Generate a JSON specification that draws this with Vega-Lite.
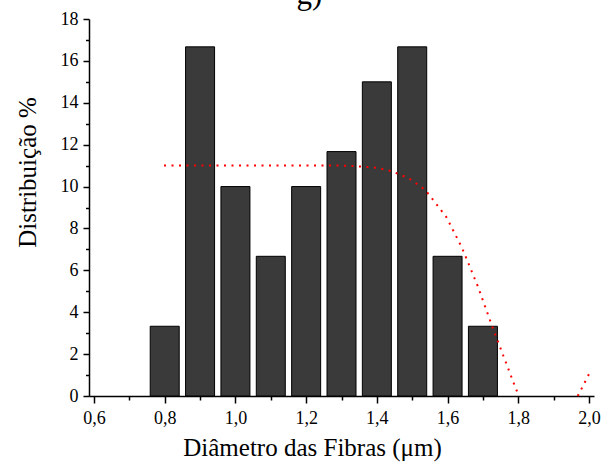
{
  "$schema": "https://vega.github.io/schema/vega-lite/v6.json",
  "width": 505,
  "height": 377,
  "autosize": {"type": "none"},
  "padding": {"left": 89, "top": 19, "right": 15, "bottom": 68},
  "background": "white",
  "config": {
    "view": {"stroke": null},
    "font": "Liberation Serif",
    "axis": {"grid": false, "domainColor": "black", "tickColor": "black", "domainWidth": 1.5, "tickWidth": 1.5, "labelColor": "black", "titleColor": "black", "labelFont": "Liberation Serif", "titleFont": "Liberation Serif", "titleFontWeight": "normal", "labelFontSize": 18, "titleFontSize": 25}
  },
  "title": {"text": "g)", "font": "Liberation Serif", "fontSize": 31, "fontWeight": "normal", "frame": "group", "anchor": "middle", "dx": -32, "dy": 25, "offset": 0, "baseline": "alphabetic", "color": "black"},
  "datasets": {
    "bars": [
      {"d": 0.8, "p": 3.33},
      {"d": 0.9, "p": 16.67},
      {"d": 1.0, "p": 10.0},
      {"d": 1.1, "p": 6.67},
      {"d": 1.2, "p": 10.0},
      {"d": 1.3, "p": 11.67},
      {"d": 1.4, "p": 15.0},
      {"d": 1.5, "p": 16.67},
      {"d": 1.6, "p": 6.67},
      {"d": 1.7, "p": 3.33}
    ],
    "curve": [
      {"seg": "a", "d": 0.798, "p": 11.0},
      {"seg": "a", "d": 0.9, "p": 11.0},
      {"seg": "a", "d": 1.0, "p": 11.0},
      {"seg": "a", "d": 1.1, "p": 11.0},
      {"seg": "a", "d": 1.2, "p": 11.0},
      {"seg": "a", "d": 1.3, "p": 11.0},
      {"seg": "a", "d": 1.335, "p": 10.98},
      {"seg": "a", "d": 1.4, "p": 10.9},
      {"seg": "a", "d": 1.442, "p": 10.73},
      {"seg": "a", "d": 1.49, "p": 10.4},
      {"seg": "a", "d": 1.527, "p": 9.97},
      {"seg": "a", "d": 1.547, "p": 9.63},
      {"seg": "a", "d": 1.597, "p": 8.53},
      {"seg": "a", "d": 1.641, "p": 7.07},
      {"seg": "a", "d": 1.686, "p": 5.22},
      {"seg": "a", "d": 1.725, "p": 3.38},
      {"seg": "a", "d": 1.758, "p": 1.91},
      {"seg": "a", "d": 1.791, "p": 0.44},
      {"seg": "a", "d": 1.802, "p": 0.0},
      {"seg": "b", "d": 1.968, "p": 0.0},
      {"seg": "b", "d": 1.976, "p": 0.25},
      {"seg": "b", "d": 2.0, "p": 1.05}
    ]
  },
  "layer": [
    {
      "data": {"name": "bars"},
      "mark": {"type": "bar", "size": 29, "fill": "#3a3a3a", "stroke": "black", "strokeWidth": 1},
      "encoding": {
        "x": {"field": "d", "type": "quantitative", "scale": {"domain": [0.6, 2.0], "nice": false, "zero": false},
              "axis": {"title": "Diâmetro das Fibras (μm)", "values": [0.6, 0.8, 1.0, 1.2, 1.4, 1.6, 1.8, 2.0], "labelExpr": "replace(format(datum.value, '.1f'), '.', ',')", "labelFont": "Liberation Serif", "tickSize": 7, "labelPadding": 6, "titleX": 223, "titleY": 59, "titleBaseline": "alphabetic", "labelFlush": false}},
        "y": {"field": "p", "type": "quantitative", "scale": {"domain": [0, 18], "nice": false},
              "axis": {"title": "Distribuição %", "values": [0, 2, 4, 6, 8, 10, 12, 14, 16, 18], "labelFont": "Liberation Serif", "tickSize": 6, "labelPadding": 5, "titleX": -54, "titleY": 153, "titleBaseline": "alphabetic", "labelFlush": false}}
      }
    },
    {
      "data": {"name": "bars"},
      "mark": {"type": "bar", "size": 29, "opacity": 0},
      "encoding": {
        "x": {"field": "d", "type": "quantitative", "axis": {"orient": "bottom", "title": null, "labels": false, "domain": false, "values": [0.7, 0.9, 1.1, 1.3, 1.5, 1.7, 1.9], "tickSize": 4}},
        "y": {"field": "p", "type": "quantitative", "axis": {"orient": "left", "title": null, "labels": false, "domain": false, "values": [1, 3, 5, 7, 9, 11, 13, 15, 17], "tickSize": 3.5}}
      }
    },
    {
      "data": {"name": "curve"},
      "mark": {"type": "line", "color": "#ff0000", "strokeWidth": 2, "strokeDash": [2, 5.5]},
      "encoding": {
        "x": {"field": "d", "type": "quantitative", "axis": null},
        "y": {"field": "p", "type": "quantitative", "axis": null},
        "detail": {"field": "seg"}
      }
    }
  ],
  "resolve": {"axis": {"x": "independent", "y": "independent"}}
}
